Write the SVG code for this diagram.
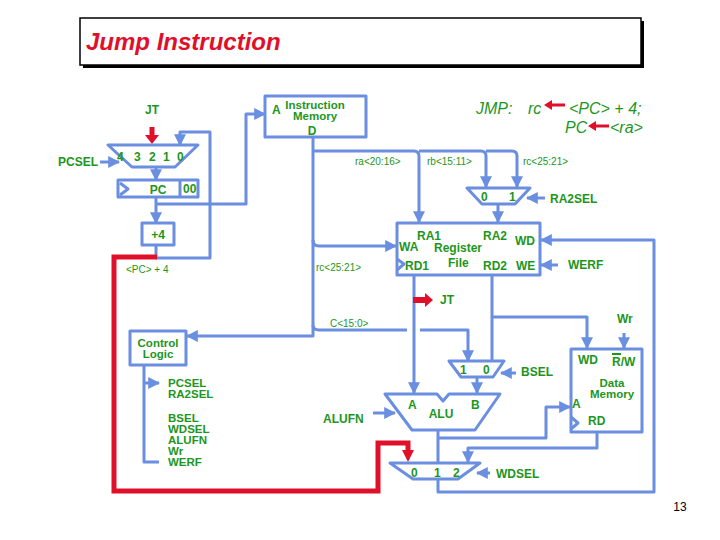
<svg xmlns="http://www.w3.org/2000/svg" width="720" height="540" viewBox="0 0 720 540">
<defs>
<marker id="ab" viewBox="0 0 10 10" refX="9" refY="5" markerWidth="4" markerHeight="4" orient="auto"><path d="M0,0L10,5L0,10z" fill="#6a8ee0"/></marker>
<style>
.w{fill:none;stroke:#6a8ee0;stroke-width:3;stroke-linejoin:round}
.a{marker-end:url(#ab)}
.r{fill:none;stroke:#e0102a;stroke-width:5}
.rf{fill:#e0102a}
.t{font-family:"Liberation Sans",Arial,sans-serif;font-weight:bold;font-size:12px;fill:#1d961d}
.s{font-family:"Liberation Sans",Arial,sans-serif;font-size:10px;fill:#1d961d}
.c{text-anchor:middle}
.j{font-family:"Liberation Sans",Arial,sans-serif;font-style:italic;font-size:16px;fill:#1d961d}
.m{font-size:11.5px}
</style>
</defs>
<rect width="720" height="540" fill="#fff"/>
<g id="title">
<rect x="83" y="21" width="561" height="47" fill="#000"/>
<rect x="80" y="18" width="561" height="47" fill="#fff" stroke="#000" stroke-width="1.5"/>
<text x="86" y="50" font-family="Liberation Sans,Arial,sans-serif" font-style="italic" font-weight="bold" font-size="24" fill="#e0102a">Jump Instruction</text>
</g>
<g id="jmp">
<text class="j" x="476" y="114">JMP:</text>
<text class="j" x="528" y="114">rc</text>
<text class="j" x="569" y="114">&lt;PC&gt; + 4;</text>
<text class="j" x="565" y="133">PC</text>
<text class="j" x="610" y="133">&lt;ra&gt;</text>
<path class="rf" d="M565,103.5H552V100L544,105L552,110V106.5H565z"/>
<path class="rf" d="M609,124.5H596V121L588,126L596,131V127.5H609z"/>
</g>
<g id="connectors">
<path class="w a" d="M100,162H119"/>
<path class="w a" d="M156,167V180"/>
<path class="w a" d="M156,258V245M156,197V223"/>
<path class="w a" d="M210,180V258H156M210,180V132H180V145"/>
<path class="w a" d="M156,204H246V114H265"/>
<path class="w a" d="M313,137V336H187"/>
<path class="w a" d="M313,151H414Q419,151 419,156V222"/>
<path class="w a" d="M419,151H481Q486,151 486,156V187"/>
<path class="w a" d="M486,151H512Q517,151 517,156V187"/>
<path class="w a" d="M313,240Q313,246 319,246H396"/>
<path class="w a" d="M545,198H527"/>
<path class="w a" d="M498,204V222"/>
<path class="w a" d="M558,265H541"/>
<path class="w a" d="M313,325Q313,330 319,330H407M420,330H468V361"/>
<path class="w a" d="M414,275V393"/>
<path class="w a" d="M492,275V361M492,317H587V348"/>
<path class="w a" d="M516,373H501"/>
<path class="w a" d="M477,377V393"/>
<path class="w a" d="M624,333V348"/>
<path class="w a" d="M373,413H395"/>
<path class="w a" d="M438,430V462M438,438H546V407H570"/>
<path class="w a" d="M597,432V448H468V462"/>
<path class="w a" d="M490,473H477"/>
<path class="w a" d="M438,479V492H654V240H541"/>
<path class="w a" d="M144,365V462H159M144,383H159"/>
<path class="r" d="M157,257H114V491H378V443H408V452"/>
<path class="rf" d="M402,450H414L408,462z"/>
<path class="r" d="M152,127V137"/>
<path class="rf" d="M145,135L159,135L152,144z"/>
<path class="rf" d="M413,297H425V293L433,300L425,307V303H413z"/>
</g>
<g id="pcmux">
<path class="w" d="M108,145H198L175,167H132z"/>
<text class="t" x="117" y="161">4</text><text class="t" x="134" y="161">3</text><text class="t" x="149" y="161">2</text><text class="t" x="163" y="161">1</text><text class="t" x="177" y="161">0</text>
<text class="t c" x="152" y="114">JT</text>
<text class="t" x="58" y="166">PCSEL</text>
</g>
<g id="pc">
<rect class="w" x="118" y="180" width="80" height="17"/>
<line class="w" x1="180" y1="180" x2="180" y2="197"/>
<path class="w" d="M120,183L128,189L120,195"/>
<text class="t c" x="158" y="194">PC</text>
<text class="t" x="183" y="193">00</text>
</g>
<g id="plus4">
<rect class="w" x="142" y="223" width="32" height="22"/>
<text class="t c" x="158" y="239">+4</text>
<text class="s" x="126" y="273">&lt;PC&gt; + 4</text>
</g>
<g id="imem">
<rect class="w" x="265" y="96" width="101" height="41"/>
<text class="t" x="272" y="114">A</text>
<text class="t c m" x="315" y="109">Instruction</text>
<text class="t c m" x="315" y="120">Memory</text>
<text class="t c" x="312" y="135">D</text>
</g>
<g id="labels">
<text class="s" x="355" y="165">ra&lt;20:16&gt;</text>
<text class="s" x="427" y="165">rb&lt;15:11&gt;</text>
<text class="s" x="523" y="165">rc&lt;25:21&gt;</text>
<text class="s" x="316" y="271">rc&lt;25:21&gt;</text>
<text class="s" x="330" y="327">C&lt;15:0&gt;</text>
<text class="t" x="440" y="304">JT</text>
</g>
<g id="ra2mux">
<path class="w" d="M467,188H530L515,204H482z"/>
<text class="t" x="481" y="201">0</text><text class="t" x="509" y="201">1</text>
<text class="t" x="550" y="203">RA2SEL</text>
</g>
<g id="regfile">
<rect class="w" x="397" y="223" width="143" height="52"/>
<path class="w" d="M397,259L404,264L397,270"/>
<text class="t" x="417" y="240">RA1</text>
<text class="t" x="483" y="240">RA2</text>
<text class="t" x="515" y="245">WD</text>
<text class="t" x="399" y="251">WA</text>
<text class="t" x="434" y="252">Register</text>
<text class="t" x="405" y="270">RD1</text>
<text class="t" x="448" y="267">File</text>
<text class="t" x="483" y="270">RD2</text>
<text class="t" x="516" y="270">WE</text>
<text class="t" x="568" y="269">WERF</text>
</g>
<g id="control">
<rect class="w" x="130" y="331" width="56" height="34"/>
<text class="t c m" x="158" y="347">Control</text>
<text class="t c m" x="158" y="358">Logic</text>
<text class="t m" x="168" y="387">PCSEL</text>
<text class="t m" x="168" y="398">RA2SEL</text>
<text class="t m" x="168" y="422">BSEL</text>
<text class="t m" x="168" y="433">WDSEL</text>
<text class="t m" x="168" y="444">ALUFN</text>
<text class="t m" x="168" y="455">Wr</text>
<text class="t m" x="168" y="466">WERF</text>
</g>
<g id="bmux">
<path class="w" d="M449,361H504L493,377H461z"/>
<text class="t" x="460" y="374">1</text><text class="t" x="483" y="374">0</text>
<text class="t" x="521" y="376">BSEL</text>
</g>
<g id="alu">
<path class="w" d="M385,394H437L443,401L449,394H500L475,430H412z"/>
<text class="t" x="408" y="409">A</text>
<text class="t" x="471" y="409">B</text>
<text class="t c" x="441" y="418">ALU</text>
<text class="t" x="323" y="423">ALUFN</text>
</g>
<g id="wdmux">
<path class="w" d="M390,463H480L458,479H413z"/>
<text class="t" x="411" y="477">0</text><text class="t" x="434" y="477">1</text><text class="t" x="453" y="477">2</text>
<text class="t" x="496" y="478">WDSEL</text>
</g>
<g id="dmem">
<rect class="w" x="571" y="349" width="71" height="83"/>
<path class="w" d="M571,417L578,423L571,429"/>
<text class="t" x="578" y="364">WD</text>
<text class="t" x="612" y="366">R/W</text>
<line x1="612" y1="354" x2="621" y2="354" stroke="#1d961d" stroke-width="2"/>
<text class="t c m" x="612" y="387">Data</text>
<text class="t c m" x="612" y="398">Memory</text>
<text class="t" x="572" y="408">A</text>
<text class="t" x="588" y="425">RD</text>
<text class="t" x="617" y="323">Wr</text>
</g>
<text x="680" y="511" font-family="Liberation Sans,Arial,sans-serif" font-size="12" fill="#000" text-anchor="middle">13</text>
</svg>
